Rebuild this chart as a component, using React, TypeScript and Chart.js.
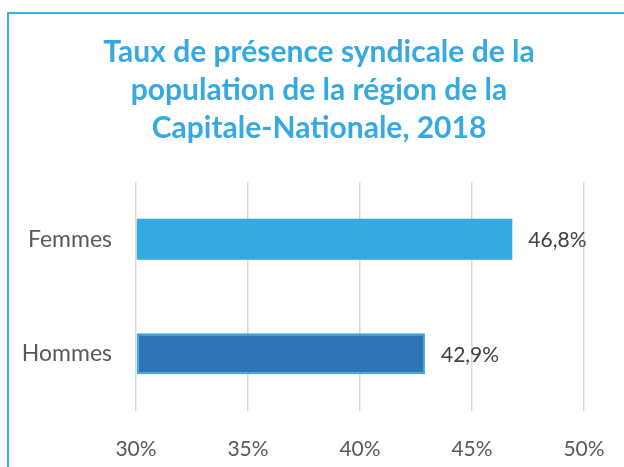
import React, { useEffect, useRef } from "react";
import { Chart, registerables } from "chart.js";

Chart.register(...registerables);

const titleLines = [
  "Taux de présence syndicale de la",
  "population de la région de la",
  "Capitale-Nationale, 2018",
];
const categories = ["Femmes", "Hommes"];
const values = [46.8, 42.9];
const valueLabels = ["46,8%", "42,9%"];
const barFill = ["#36A9E1", "#2E74B5"];
const barBorder = ["#36A9E1", "#36A9E1"];
const xMin = 30;
const xMax = 50;
const xStep = 5;

const FONT = "Lato, 'Open Sans', sans-serif";

const valueLabelPlugin = {
  id: "valueLabels",
  afterDatasetsDraw(chart: any) {
    const ctx = chart.ctx;
    const meta = chart.getDatasetMeta(0);
    ctx.save();
    ctx.font = `21px ${FONT}`;
    ctx.fillStyle = "#404040";
    ctx.textAlign = "left";
    ctx.textBaseline = "middle";
    meta.data.forEach((bar: any, i: number) => {
      ctx.fillText(valueLabels[i], bar.x + 16, bar.y + 1);
    });
    ctx.restore();
  },
};

const titlePlugin = {
  id: "centeredTitle",
  afterDraw(chart: any) {
    const ctx = chart.ctx;
    ctx.save();
    ctx.font = `bold 30px ${FONT}`;
    ctx.fillStyle = "#36A9E1";
    ctx.textAlign = "center";
    ctx.textBaseline = "alphabetic";
    titleLines.forEach((line, i) => {
      ctx.fillText(line, 319, 62 + i * 38);
    });
    ctx.restore();
  },
};

export default function App() {
  const ref = useRef<HTMLCanvasElement | null>(null);

  useEffect(() => {
    if (!ref.current) return;
    const chart = new Chart(ref.current, {
      type: "bar",
      data: {
        labels: categories,
        datasets: [
          {
            data: values,
            backgroundColor: barFill,
            borderColor: barBorder,
            borderWidth: [0, 2],
            borderSkipped: false,
            barPercentage: 0.36,
            categoryPercentage: 1,
            base: xMin,
          } as any,
        ],
      },
      options: {
        indexAxis: "y",
        responsive: false,
        animation: false,
        layout: { padding: { left: 0, right: 40, top: 182, bottom: 0 } },
        plugins: {
          legend: { display: false },
          tooltip: { enabled: false },
          title: { display: false },
        },
        scales: {
          x: {
            min: xMin,
            max: xMax,
            ticks: {
              stepSize: xStep,
              color: "#595959",
              font: { family: FONT, size: 21 },
              padding: 26,
              callback: (v: any) => `${v}%`,
            },
            grid: { color: "#D9D9D9", lineWidth: 1.5, drawTicks: false },
            border: { display: false },
            afterFit: (s: any) => {
              s.height = 56;
              s.paddingLeft = 0;
              s.paddingRight = 0;
            },
          },
          y: {
            ticks: {
              color: "#595959",
              font: { family: FONT, size: 23 },
              padding: 24,
            },
            grid: { display: false, drawTicks: false },
            border: { display: false },
            afterFit: (s: any) => {
              s.width = 136;
              s.paddingTop = 0;
              s.paddingBottom = 0;
            },
          },
        },
      },
      plugins: [valueLabelPlugin, titlePlugin],
    });
    return () => chart.destroy();
  }, []);

  return (
    <div
      style={{
        position: "fixed",
        left: 0,
        top: 0,
        width: 624,
        height: 467,
        overflow: "hidden",
        background: "#ffffff",
      }}
    >
      <div
        style={{
          position: "absolute",
          left: 7,
          top: 12,
          width: 660,
          height: 500,
          border: "2px solid #3BAEE3",
          boxSizing: "border-box",
        }}
      />
      <canvas
        ref={ref}
        width={624}
        height={467}
        style={{ position: "absolute", left: 0, top: 0, width: 624, height: 467 }}
      />
    </div>
  );
}
